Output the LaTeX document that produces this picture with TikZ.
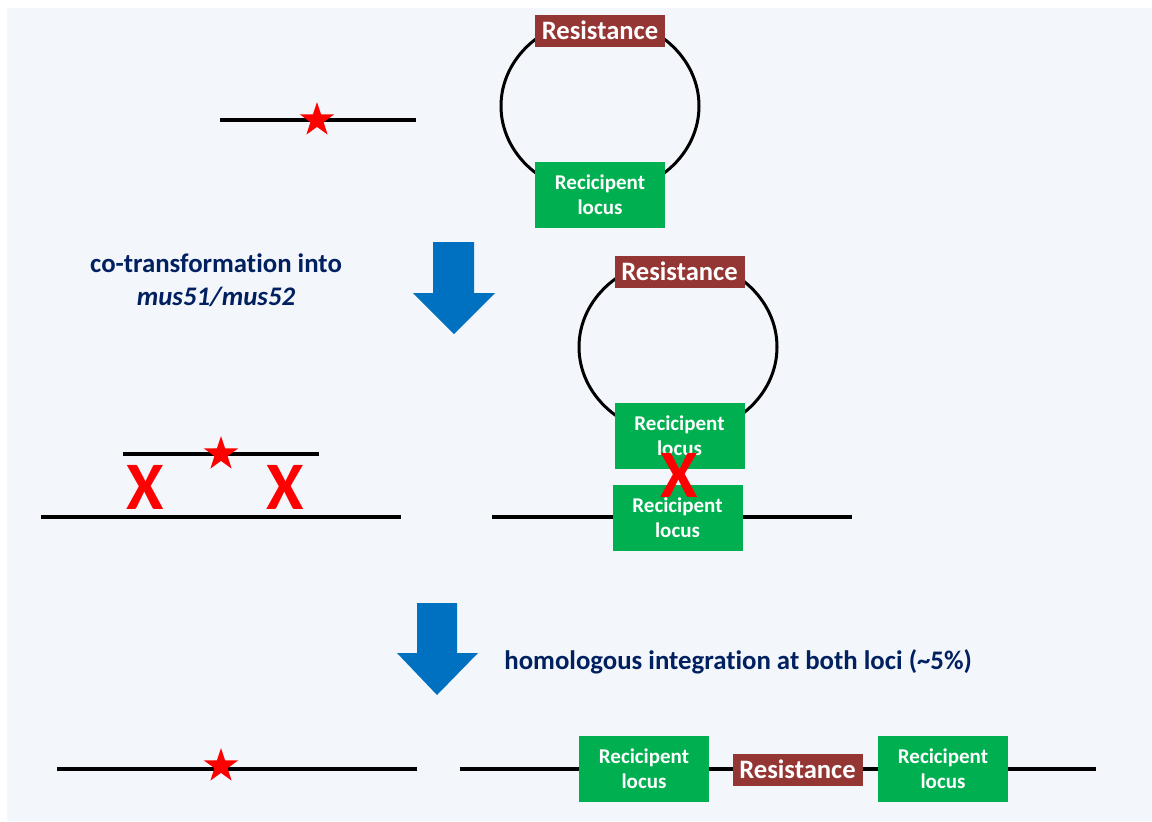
\documentclass[tikz,border=0pt]{standalone}
\usepackage{fontspec}
\setmainfont{Carlito}[RawFeature=-liga]
\usetikzlibrary{shapes.geometric}
\definecolor{bgblue}{HTML}{F3F6FB}
\definecolor{resred}{HTML}{943634}
\definecolor{locgreen}{HTML}{00B050}
\definecolor{arrowblue}{HTML}{0070C0}
\definecolor{navy}{HTML}{002060}
\begin{document}
\begin{tikzpicture}[x=0.5pt, y=-0.5pt,
    res/.style = {fill=resred, text=white, font=\bfseries\fontsize{13.3}{15}\selectfont, minimum width=65pt, minimum height=16pt, inner sep=0pt},
    locus/.style = {fill=locgreen, text=white, align=center, font=\bfseries\fontsize{10.5}{12.5}\selectfont, minimum width=65pt, minimum height=33pt, inner sep=0pt},
    strand/.style = {line width=2pt},
    plasmid/.style = {draw, ellipse, line width=1.5pt, minimum width=99pt, minimum height=88pt, inner sep=0pt},
    cross/.style = {text=red, font=\bfseries\fontsize{34}{34}\selectfont, inner sep=0pt},
    mut/.style = {star, star points=5, star point ratio=2.6, fill=red, minimum size=18pt, inner sep=0pt},
    note/.style = {text=navy, font=\bfseries\fontsize{13.4}{16.5}\selectfont, inner sep=0pt},
    blockarrow/.style = {fill=arrowblue}]
    \fill[white] (0,0) rectangle (1152,821);
    \fill[bgblue] (7,8) rectangle (1152,821);
    % donor fragment and plasmid
    \coordinate (a1) at (220,120);
    \coordinate (a2) at (416,120);
    \draw[strand] (a1) -- (a2);
    \node[mut] (s1) at (317,120) {};
    \node[plasmid] (p1) at (600,106) {};
    \node[res] (r1) at (600,30.5) {Resistance};
    \node[locus] (l1) at (600,194.5) {Recicipent\\locus};
    % first step
    \fill[blockarrow] (433,242) -- (474,242) -- (474,293) -- (495,293) -- (454,334) -- (413,293) -- (433,293) -- cycle;
    \node[note, align=center] (t1) at (216,280) {co-transformation into\\\textit{mus51/mus52}};
    % pairing
    \coordinate (b1) at (123,454);
    \coordinate (b2) at (319,454);
    \coordinate (c1) at (41,517);
    \coordinate (c2) at (401,517);
    \draw[strand] (b1) -- (b2);
    \draw[strand] (c1) -- (c2);
    \node[mut] (s2) at (221,454) {};
    \node[cross] (x1) at (145,487) {X};
    \node[cross] (x2) at (285,487) {X};
    \coordinate (d1) at (492,517);
    \coordinate (d2) at (852,517);
    \draw[strand] (d1) -- (d2);
    \node[plasmid] (p2) at (678,347) {};
    \node[res] (r2) at (679.5,271.5) {Resistance};
    \node[locus] (l2) at (679.5,436) {Recicipent\\locus};
    \node[locus] (l3) at (677.5,518) {Recicipent\\locus};
    \node[cross] (x3) at (679,475) {X};
    % second step
    \fill[blockarrow] (417,603) -- (457,603) -- (457,653) -- (478,653) -- (437,695) -- (397,653) -- (417,653) -- cycle;
    \node[note, anchor=west] (t2) at (504,662) {homologous integration at both loci (\textasciitilde5\%)};
    % result
    \coordinate (e1) at (57,769);
    \coordinate (e2) at (417,769);
    \draw[strand] (e1) -- (e2);
    \node[mut] (s3) at (221,766) {};
    \coordinate (f1) at (460,769);
    \coordinate (f2) at (1096,769);
    \draw[strand] (f1) -- (f2);
    \node[locus] (l4) at (644,769) {Recicipent\\locus};
    \node[res] (r3) at (797.5,769.5) {Resistance};
    \node[locus] (l5) at (943,769) {Recicipent\\locus};
\end{tikzpicture}
\end{document}
